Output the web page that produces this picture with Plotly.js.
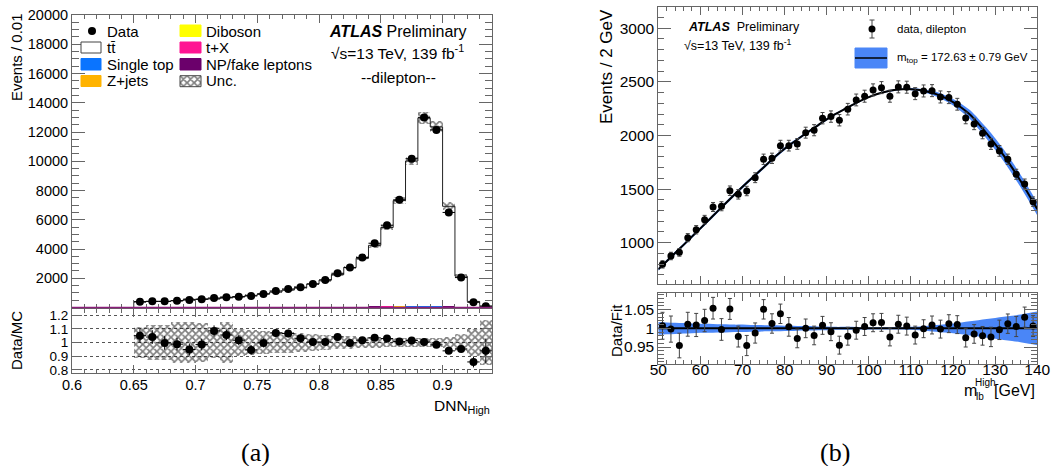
<!DOCTYPE html>
<html><head><meta charset="utf-8">
<script src="https://cdn.plot.ly/plotly-3.0.1.min.js"></script>
<style>html,body{margin:0;padding:0;background:#fff}#plot{width:1052px;height:466px}</style>
</head><body><div id="plot"></div>
<script>
// ---------- Panel (a): DNN_High ----------
const dnnCenters = [0.655,0.665,0.675,0.685,0.695,0.705,0.715,0.725,0.735,0.745,0.755,0.765,0.775,0.785,0.795,0.805,0.815,0.825,0.835,0.845,0.855,0.865,0.875,0.885,0.895,0.905,0.915,0.925,0.935];
const dataCounts = [400,425,420,466,514,560,650,697,740,788,925,1130,1267,1384,1610,1884,2340,2730,3415,4395,5630,7364,10170,13000,12140,6500,2045,355,90];
const dataErr = [20,21,21,22,23,24,26,26,27,28,30,34,36,37,40,43,48,52,58,66,75,86,101,114,110,81,45,19,10];
const mcTotal = [380,410,420,470,540,570,600,660,730,830,925,1055,1190,1345,1605,1875,2250,2740,3360,4250,5470,7310,10020,12950,12350,6920,2145,415,96];
const singleTop = [3,3,3,4,4,4,5,5,6,7,8,9,11,13,15,18,22,27,34,42,52,62,70,75,70,45,17,4,1];
const zJets = [1,1,1,1,2,2,2,2,2,2,3,3,4,4,5,5,6,7,8,10,12,14,15,16,14,8,3,1,0];
const diboson = [0,0,0,0,0,0,0,0,1,1,1,1,1,1,1,1,2,2,2,3,3,4,4,4,4,2,1,0,0];
const tX = [1,1,1,1,1,1,1,2,2,2,2,2,3,3,4,4,5,6,8,10,12,16,20,22,21,12,4,1,0];
const npFake = [1,1,1,1,1,1,2,2,2,2,2,2,3,3,3,4,4,5,6,7,8,9,11,12,10,6,3,1,0];
const uncRel = [0.115,0.13,0.13,0.15,0.15,0.14,0.115,0.15,0.10,0.09,0.085,0.08,0.075,0.07,0.06,0.055,0.05,0.045,0.042,0.04,0.035,0.032,0.03,0.03,0.03,0.04,0.06,0.10,0.165];
const ratioVals = [1.05,1.04,0.997,0.988,0.949,0.985,1.085,1.055,1.017,0.946,0.997,1.07,1.066,1.031,1.004,1.004,1.041,0.997,1.017,1.034,1.029,1.007,1.015,1.004,0.983,0.939,0.953,0.858,0.939];
const ratioErr = [0.05,0.05,0.05,0.046,0.044,0.042,0.04,0.038,0.037,0.035,0.033,0.03,0.028,0.027,0.025,0.023,0.021,0.019,0.017,0.015,0.013,0.012,0.01,0.009,0.009,0.012,0.022,0.04,0.09];
const binWidthA = 0.01;
const mainYTicks = [2000,4000,6000,8000,10000,12000,14000,16000,18000,20000];
const ratioYTicksA = [0.8,0.9,1.0,1.1,1.2];
const ratioYTextA = ['0.8','0.9','1','1.1','1.2'];
const xTicksA = [0.6,0.65,0.7,0.75,0.8,0.85,0.9];
const xTextA = ['0.6','0.65','0.7','0.75','0.8','0.85','0.9'];

// ---------- Panel (b): m_lb^High ----------
const mlbCenters = [51,53,55,57,59,61,63,65,67,69,71,73,75,77,79,81,83,85,87,89,91,93,95,97,99,101,103,105,107,109,111,113,115,117,119,121,123,125,127,129,131,133,135,137,139];
const mlbData = [798,876,910,1047,1121,1215,1333,1340,1485,1451,1482,1606,1778,1787,1905,1905,1921,2026,2049,2161,2176,2142,2245,2331,2366,2425,2446,2366,2453,2450,2390,2415,2418,2359,2353,2291,2163,2107,2021,1921,1856,1778,1638,1548,1383];
const mlbErr = [34,35,36,38,39,40,42,42,44,44,44,46,48,48,50,50,50,51,52,53,53,53,54,55,56,56,56,56,56,56,56,56,56,56,56,55,54,53,52,51,50,48,47,46,44];
const mlbRatio = [1.007,0.998,0.954,1.011,1.009,1.021,1.054,0.997,1.052,0.978,0.954,0.9875,1.051,1.013,1.039,1.004,0.973,1.0,0.981,1.008,0.991,0.955,0.979,0.995,1.005,1.015,1.016,0.977,1.011,1.006,0.982,0.999,1.009,0.998,1.0125,1.01,0.975,0.985,0.980,0.977,0.996,1.0125,1.005,1.030,1.006];
const mlbRatioErr = [0.036,0.035,0.033,0.032,0.031,0.030,0.029,0.029,0.028,0.028,0.027,0.027,0.026,0.026,0.026,0.025,0.025,0.025,0.025,0.024,0.024,0.024,0.024,0.024,0.024,0.024,0.024,0.024,0.024,0.024,0.024,0.024,0.024,0.024,0.024,0.024,0.025,0.025,0.025,0.026,0.026,0.026,0.027,0.027,0.028];
const fitMass = [50,52,54,56,58,60,62,64,66,68,70,72,74,76,78,80,82,84,86,88,90,92,94,96,98,100,102,104,106,108,110,112,114,116,118,120,122,124,126,128,130,132,134,136,138,140];
const fitVal = [752,828,904,980,1057,1134,1212,1290,1368,1445,1521,1594,1666,1738,1810,1876,1934,1990,2044,2097,2150,2198,2241,2283,2322,2358,2386,2408,2423,2431,2432,2424,2408,2385,2352,2310,2258,2195,2110,2018,1920,1815,1700,1577,1448,1313];
const fitRel = [0.017,0.016,0.015,0.014,0.013,0.012,0.012,0.011,0.011,0.010,0.010,0.009,0.009,0.008,0.008,0.007,0.007,0.006,0.006,0.005,0.005,0.004,0.004,0.004,0.003,0.003,0.003,0.003,0.003,0.003,0.004,0.005,0.007,0.009,0.011,0.013,0.016,0.019,0.022,0.025,0.028,0.031,0.034,0.037,0.041,0.045];
const mainYTicksB = [1000,1500,2000,2500,3000];
const ratioYTicksB = [0.95,1.0,1.05];
const ratioYTextB = ['0.95','1','1.05'];
const xTicksB = [50,60,70,80,90,100,110,120,130,140];

// ---------- colours ----------
const C = {st:'#0a74ff', zj:'#ffb300', db:'#ffff00', tx:'#ff1493', np:'#6b006b', fit:'#4a86f7', frame:'#666'};
const FONT = 'Liberation Sans, Arial, Helvetica, sans-serif';
const W = 1052, H = 466;
const px = v => v / W;
const py = v => 1 - v / H;

// derived stacks
const cum = [];
let acc = dnnCenters.map(() => 0);
[singleTop, zJets, diboson, tX, npFake].forEach(a => { acc = acc.map((v, i) => v + a[i]); cum.push(acc.slice()); });
const bkgCols = [C.st, C.zj, C.db, C.tx, C.np];

const traces = [];
for (let k = 4; k >= 0; k--) {
  traces.push({type:'bar', x:dnnCenters, y:cum[k], width:binWidthA, xaxis:'x', yaxis:'y',
    marker:{color:bkgCols[k], line:{width:0}}, hoverinfo:'skip', showlegend:false});
}
const hatch = {shape:'x', fgcolor:'#000', bgcolor:'rgba(0,0,0,0)', size:5, solidity:0.55, fillmode:'overlay'};
traces.push({type:'bar', x:dnnCenters, base:mcTotal.map((m,i)=>m*(1-uncRel[i])), y:mcTotal.map((m,i)=>2*m*uncRel[i]),
  width:binWidthA, xaxis:'x', yaxis:'y', marker:{color:'rgba(0,0,0,0)', line:{width:0}, pattern:hatch}, showlegend:false});
// step outline
const edges = dnnCenters.map(c => c - binWidthA/2);
const stepX = [edges[0]].concat(edges, [edges[edges.length-1] + binWidthA]);
const stepY = [0].concat(mcTotal, [mcTotal[mcTotal.length-1]]);
traces.push({type:'scatter', mode:'lines', x:stepX, y:stepY, line:{shape:'hv', color:'#222', width:1}, xaxis:'x', yaxis:'y', showlegend:false});
traces.push({type:'scatter', mode:'markers', x:dnnCenters, y:dataCounts, xaxis:'x', yaxis:'y',
  marker:{color:'#000', size:8},
  error_y:{type:'data', array:dataErr, color:'#000', thickness:1, width:0},
  error_x:{type:'constant', value:binWidthA/2, color:'#000', thickness:1, width:0}, showlegend:false});
// ratio (a)
traces.push({type:'bar', x:dnnCenters, base:uncRel.map(u=>1-u), y:uncRel.map(u=>2*u), width:binWidthA,
  xaxis:'x2', yaxis:'y2', marker:{color:'rgba(0,0,0,0)', line:{width:0}, pattern:hatch}, showlegend:false});
traces.push({type:'scatter', mode:'markers', x:dnnCenters, y:ratioVals, xaxis:'x2', yaxis:'y2',
  marker:{color:'#000', size:8},
  error_y:{type:'data', array:ratioErr, color:'#000', thickness:1, width:0},
  error_x:{type:'constant', value:binWidthA/2, color:'#000', thickness:1, width:0}, showlegend:false});

// panel (b) main
traces.push({type:'scatter', mode:'lines', x:fitMass, y:fitVal.map((v,i)=>v*(1+fitRel[i])), line:{width:0, shape:'spline'},
  xaxis:'x3', yaxis:'y3', showlegend:false, hoverinfo:'skip'});
traces.push({type:'scatter', mode:'lines', x:fitMass, y:fitVal.map((v,i)=>v*(1-fitRel[i])), line:{width:0, shape:'spline'},
  fill:'tonexty', fillcolor:C.fit, xaxis:'x3', yaxis:'y3', showlegend:false, hoverinfo:'skip'});
traces.push({type:'scatter', mode:'lines', x:fitMass, y:fitVal, line:{color:'#000', width:2, shape:'spline'}, xaxis:'x3', yaxis:'y3', showlegend:false});
traces.push({type:'scatter', mode:'markers', x:mlbCenters, y:mlbData, xaxis:'x3', yaxis:'y3',
  marker:{color:'#000', size:7},
  error_y:{type:'data', array:mlbErr, color:'#444', thickness:1, width:2}, showlegend:false});
// ratio (b)
traces.push({type:'scatter', mode:'lines', x:fitMass, y:fitRel.map(r=>1+r), line:{width:0, shape:'spline'}, xaxis:'x4', yaxis:'y4', showlegend:false});
traces.push({type:'scatter', mode:'lines', x:fitMass, y:fitRel.map(r=>1-r), line:{width:0, shape:'spline'}, fill:'tonexty', fillcolor:C.fit, xaxis:'x4', yaxis:'y4', showlegend:false});
traces.push({type:'scatter', mode:'lines', x:fitMass, y:fitMass.map(()=>1), line:{color:'#000', width:2}, xaxis:'x4', yaxis:'y4', showlegend:false});
traces.push({type:'scatter', mode:'markers', x:mlbCenters, y:mlbRatio, xaxis:'x4', yaxis:'y4',
  marker:{color:'#000', size:7},
  error_y:{type:'data', array:mlbRatioErr, color:'#444', thickness:1, width:2}, showlegend:false});
// legend hatch swatch
traces.push({type:'bar', x:[0], y:[1], width:1, xaxis:'x5', yaxis:'y5', marker:{color:'rgba(0,0,0,0)', line:{width:0}, pattern:hatch}, showlegend:false});

const tickFont = {family:FONT, size:14.5, color:'#000'};
const tickFontR = {family:FONT, size:13.5, color:'#000'};
const tickFontB = {family:FONT, size:15.5, color:'#000'};
function ax(o){ return Object.assign({showline:true, linecolor:C.frame, linewidth:1, mirror:'allticks', ticks:'inside', tickcolor:C.frame,
  showgrid:false, zeroline:false, fixedrange:true}, o); }

const xdA = [px(72), px(492)], xdB = [px(658.3), px(1037.3)];
const layout = {
  width:W, height:H, margin:{l:0,r:0,t:0,b:0}, paper_bgcolor:'#fff', plot_bgcolor:'rgba(0,0,0,0)',
  barmode:'overlay', bargap:0, showlegend:false, font:{family:FONT, color:'#000'},
  xaxis: ax({domain:xdA, anchor:'y', range:[0.6,0.94], tickmode:'linear', tick0:0.6, dtick:0.05, ticklen:8, showticklabels:false,
    minor:{ticks:'inside', ticklen:4, dtick:0.01, tick0:0.6, tickcolor:C.frame}}),
  yaxis: ax({domain:[py(307.5), py(15)], anchor:'x', range:[0,20000], tickmode:'array', tickvals:mainYTicks, ticktext:mainYTicks.map(String),
    ticklen:13, tickfont:tickFont, minor:{ticks:'inside', ticklen:7, dtick:500, tick0:0, tickcolor:C.frame}}),
  xaxis2: ax({domain:xdA, anchor:'y2', range:[0.6,0.94], tickmode:'array', tickvals:xTicksA, ticktext:xTextA, ticklen:8, tickfont:tickFont,
    ticklabelstandoff:-2, minor:{ticks:'inside', ticklen:4, dtick:0.01, tick0:0.6, tickcolor:C.frame}}),
  yaxis2: ax({domain:[py(373.3), py(309)], anchor:'x2', range:[0.775,1.245], tickmode:'array', tickvals:ratioYTicksA, ticktext:ratioYTextA,
    ticklen:10, tickfont:tickFontR, showgrid:true, gridcolor:'#555', griddash:'dot', gridwidth:1}),
  xaxis3: ax({domain:xdB, anchor:'y3', range:[50,140], tickmode:'linear', tick0:50, dtick:10, ticklen:8, showticklabels:false,
    minor:{ticks:'inside', ticklen:4, dtick:2, tick0:50, tickcolor:C.frame}}),
  yaxis3: ax({domain:[py(284), py(7.3)], anchor:'x3', range:[615,3195], tickmode:'array', tickvals:mainYTicksB, ticktext:mainYTicksB.map(String),
    ticklen:13, tickfont:tickFontB, minor:{ticks:'inside', ticklen:6, dtick:100, tick0:0, tickcolor:C.frame}}),
  xaxis4: ax({domain:xdB, anchor:'y4', range:[50,140], tickmode:'array', tickvals:xTicksB, ticktext:xTicksB.map(String), ticklen:8, tickfont:tickFontB,
    ticklabelstandoff:-9, minor:{ticks:'inside', ticklen:4, dtick:2, tick0:50, tickcolor:C.frame}}),
  yaxis4: ax({domain:[py(364), py(292.7)], anchor:'x4', range:[0.9045,1.0955], tickmode:'array', tickvals:ratioYTicksB, ticktext:ratioYTextB,
    ticklen:13, tickfont:tickFontB, minor:{ticks:'inside', ticklen:6, dtick:0.01, tick0:0.9, tickcolor:C.frame}}),
  xaxis5: {domain:[px(180), px(201)], anchor:'y5', range:[-0.5,0.5], visible:false, fixedrange:true},
  yaxis5: {domain:[py(86.7), py(75.7)], anchor:'x5', range:[0,1], visible:false, fixedrange:true},
  shapes:[], annotations:[]
};

// bottom coloured line of main panel (a)
layout.shapes.push({type:'line', xref:'paper', yref:'paper', x0:px(72), x1:px(492), y0:py(307.5), y1:py(307.5), line:{color:'#8a1f7a', width:1.5}});

// legend (a)
function box(x0,y0,x1,y1,fill,lc){ layout.shapes.push({type:'rect', xref:'paper', yref:'paper', x0:px(x0), x1:px(x1), y0:py(y1), y1:py(y0), fillcolor:fill, line:{color:lc, width:1}}); }
function txt(t,x,y,size,xa,opts){ layout.annotations.push(Object.assign({text:t, xref:'paper', yref:'paper', x:px(x), y:py(y), xanchor:xa||'left', yanchor:'middle', showarrow:false, font:{family:FONT, size:size, color:'#000'}}, opts||{})); }
layout.shapes.push({type:'circle', xref:'paper', yref:'paper', x0:px(88), x1:px(96), y0:py(35), y1:py(27), fillcolor:'#000', line:{color:'#000', width:0}});
box(81,42,101,53,'#fff','#444');
box(81,58.5,101,70,C.st,C.st);
box(81,75.5,101,86.5,C.zj,C.zj);
box(180,25,201,36.5,C.db,C.db);
box(180,42,201,53,C.tx,C.tx);
box(180,58.5,201,70,C.np,C.np);
box(180,75.7,201,86.7,'rgba(0,0,0,0)','#444');
const legA1 = ['Data','tt\u0304','Single top','Z+jets'];
const legA2 = ['Diboson','t+X','NP/fake leptons','Unc.'];
const legRows = [31,47,64,81];
legA1.forEach((t,i)=>txt(t,105,legRows[i],15));
legA2.forEach((t,i)=>txt(t,204,legRows[i],15));

txt('<b><i>ATLAS</i></b> Preliminary',327,31,16);
txt('\u221As=13 TeV, 139 fb<sup>-1</sup>',329,52,15.5);
txt('--dilepton--',398,77,15.5,'center');
txt('Events / 0.01',16,57,15,'center',{textangle:-90});
txt('Data/MC',16,341,15,'center',{textangle:-90});
txt('DNN<sub>High</sub>',492,406,15.5,'right');

// legend (b)
layout.shapes.push({type:'line', xref:'paper', yref:'paper', x0:px(872), x1:px(872), y0:py(38), y1:py(20), line:{color:'#444', width:1}});
layout.shapes.push({type:'line', xref:'paper', yref:'paper', x0:px(869.5), x1:px(874.5), y0:py(20), y1:py(20), line:{color:'#444', width:1}});
layout.shapes.push({type:'line', xref:'paper', yref:'paper', x0:px(869.5), x1:px(874.5), y0:py(38), y1:py(38), line:{color:'#444', width:1}});
layout.shapes.push({type:'circle', xref:'paper', yref:'paper', x0:px(868.5), x1:px(875.5), y0:py(32.5), y1:py(25.5), fillcolor:'#000', line:{width:0}});
box(855,48,887,68,C.fit,C.fit);
layout.shapes.push({type:'line', xref:'paper', yref:'paper', x0:px(855), x1:px(887), y0:py(58), y1:py(58), line:{color:'#000', width:1.5}});
txt('data, dilepton',895,29,11.5);
txt('m<sub>top</sub> = 172.63 \u00B1 0.79 GeV',895,58,11.5);
txt('<b><i>ATLAS</i></b>  Preliminary',686,27,12.5);
txt('\u221As=13 TeV, 139 fb<sup>-1</sup>',682,45,12.5);
txt('Events / 2 GeV',606,67,17,'center',{textangle:-90});
txt('Data/Fit',616,331,15,'center',{textangle:-90});
txt('m',962,390,16);
txt('lb',974,396,10);
txt('High',973,382,10);
txt('[GeV]',1037,390,16,'right');

// captions
layout.annotations.push({text:'(a)', xref:'paper', yref:'paper', x:px(255), y:py(452), xanchor:'center', yanchor:'middle', showarrow:false, font:{family:'Liberation Serif, DejaVu Serif, serif', size:26, color:'#000'}});
layout.annotations.push({text:'(b)', xref:'paper', yref:'paper', x:px(835), y:py(452), xanchor:'center', yanchor:'middle', showarrow:false, font:{family:'Liberation Serif, DejaVu Serif, serif', size:26, color:'#000'}});

Plotly.newPlot('plot', traces, layout, {staticPlot:true, displayModeBar:false});
</script></body></html>
